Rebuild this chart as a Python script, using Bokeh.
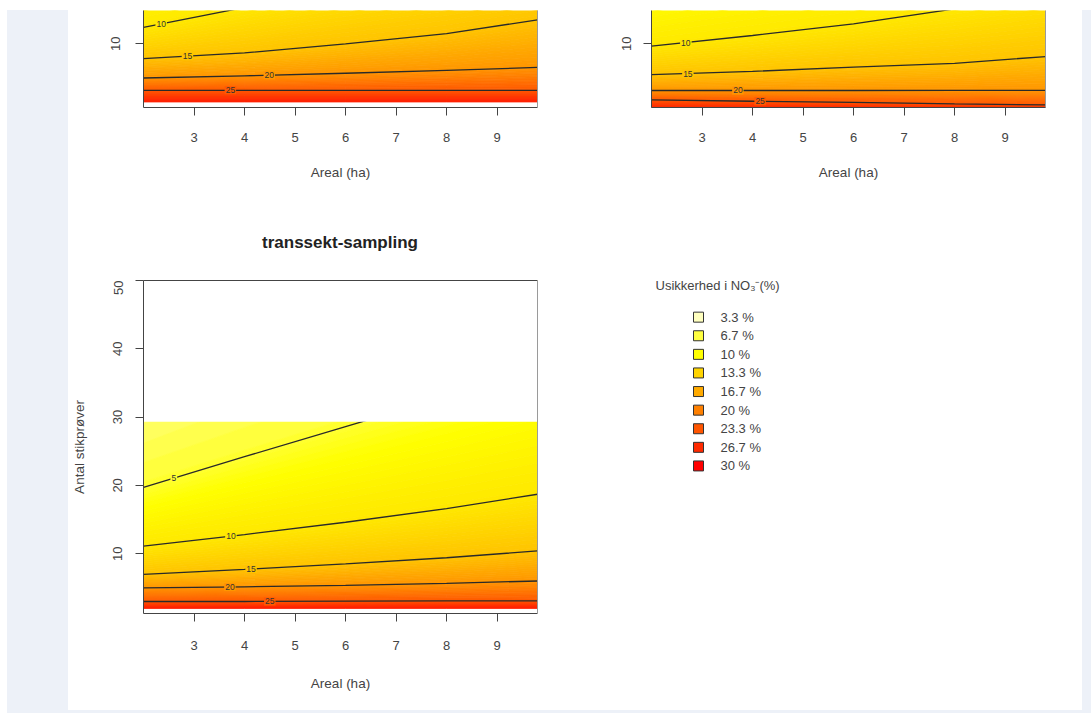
import numpy as np
from bokeh.plotting import figure
from bokeh.models import Range1d, LinearAxis, FixedTicker, Spacer, Div
from bokeh.layouts import row, column
from bokeh.core.properties import value
from bokeh.embed import file_html
from bokeh.resources import INLINE

# ---------------- data ----------------
AREA = [2.0, 4.0, 6.0, 8.0, 9.8]            # Areal (ha) columns of the grid
X_TICKS = [3, 4, 5, 6, 7, 8, 9]
Y_TICKS = [10, 20, 30, 40, 50]

# uncertainty (%) of each grid row, and number of samples where it is reached per area column
TOP_LEVELS = [30, 25, 20, 15, 10, 5]
TL_N = [
    [2.0, 2.0, 2.0, 2.0, 2.0],
    [3.6, 3.6, 3.6, 3.6, 3.6],
    [5.3, 5.6, 5.95, 6.35, 6.75],
    [7.95, 8.75, 10.0, 11.4, 13.3],
    [12.25, 15.0, 17.8, 20.6, 23.1],
    [25.0, 30.0, 36.0, 42.0, 47.0],
]
TR_N = [
    [1.0, 1.0, 1.0, 1.0, 1.0],
    [2.3, 2.1, 1.95, 1.75, 1.6],
    [3.58, 3.58, 3.58, 3.6, 3.6],
    [5.75, 6.2, 6.8, 7.3, 8.25],
    [9.67, 11.14, 12.75, 14.8, 16.9],
    [20.0, 24.0, 28.0, 33.0, 38.0],
]
TS_LEVELS = [30, 25, 20, 15, 10, 5, 2.5]
TS_N = [
    [2.0, 2.0, 2.0, 2.0, 2.0],
    [3.0, 3.0, 3.05, 3.1, 3.1],
    [4.98, 5.15, 5.35, 5.65, 6.0],
    [6.98, 7.7, 8.5, 9.4, 10.4],
    [11.1, 12.8, 14.6, 16.6, 18.7],
    [19.7, 24.2, 28.6, 33.0, 37.0],
    [40.0, 48.0, 56.0, 64.0, 72.0],
]
TS_N_MAX = 29.3          # upper edge of the computed field (white above)

LINE_LEVELS = [25, 20, 15, 10, 5]

TL_LABEL_LEVELS = [10, 15, 20, 25]
TL_LABEL_AREA = [2.35, 2.87, 4.49, 3.72]
TR_LABEL_LEVELS = [10, 15, 20, 25]
TR_LABEL_AREA = [2.68, 2.72, 3.71, 4.15]
TS_LABEL_LEVELS = [5, 10, 15, 20, 25]
TS_LABEL_AREA = [2.6, 3.73, 4.13, 3.71, 4.5]

LEG_TITLE = "Usikkerhed i NO\u2083\u207b(%)"
LEG_LABELS = ["3.3 %", "6.7 %", "10 %", "13.3 %", "16.7 %", "20 %", "23.3 %", "26.7 %", "30 %"]
LEG_COLORS = ["#FFFFBF", "#FFFF40", "#FFFF00", "#FFD400", "#FFAA00",
              "#FF8000", "#FF5500", "#FF2A00", "#FF0000"]

TITLE_BL = "transsekt-sampling"
XLABEL = "Areal (ha)"
YLABEL = "Antal stikprøver"

# ---------------- styling ----------------
FONT = "Liberation Sans"
TXT = "#444444"
STRIP = "#edf1f8"

HEAT_U = [0, 2.0, 3.3, 5.0, 6.7, 10, 15, 20, 25, 30, 35]
HEAT_HEX = ["#FFFFE0", "#FFFFB0", "#FFFF80", "#FFFF30", "#FFFF00", "#FFE800",
            "#FFC400", "#FF9600", "#FF5A00", "#FF2000", "#FF0000"]


def _rgb(h):
    return [int(h[i:i + 2], 16) for i in (1, 3, 5)]


HEAT_RGB = np.array([_rgb(h) for h in HEAT_HEX], float)


def heat(u):
    c = [np.interp(u, HEAT_U, HEAT_RGB[:, k]) for k in range(3)]
    return "#%02x%02x%02x" % tuple(int(round(v)) for v in c)


FILL_LEVELS = list(np.round(np.arange(0, 35.01, 0.35), 4))
FILL_COLORS = [heat((a + b) / 2) for a, b in zip(FILL_LEVELS[:-1], FILL_LEVELS[1:])]


def style_axis(ax, tick_standoff, label_standoff):
    ax.axis_line_color = "#444444"
    ax.axis_line_width = 1
    ax.major_tick_line_color = "#444444"
    ax.major_tick_in = 0
    ax.major_tick_out = 8
    ax.minor_tick_line_color = None
    ax.major_label_text_font = FONT
    ax.major_label_text_font_size = "13px"
    ax.major_label_text_color = TXT
    ax.major_label_standoff = tick_standoff
    ax.axis_label_text_font = FONT
    ax.axis_label_text_font_size = "13.5px"
    ax.axis_label_text_font_style = "normal"
    ax.axis_label_text_color = TXT
    ax.axis_label_standoff = label_standoff


def edge_axis(color):
    ax = LinearAxis(ticker=FixedTicker(ticks=[]))
    ax.axis_line_color = color
    ax.major_tick_line_color = None
    ax.minor_tick_line_color = None
    ax.major_tick_in = 0
    ax.major_tick_out = 0
    ax.minor_tick_in = 0
    ax.minor_tick_out = 0
    ax.major_label_standoff = 0
    return ax


def panel(levels, rows, y_end, frame_h, borders, lab_levels, lab_area,
          ystand, xstand, xlabstand, ylabel=None, ylabstand=20, boxed=False, n_max=None):
    left, right, top, bottom = borders
    p = figure(x_range=Range1d(2.0, 9.8), y_range=Range1d(1.24, y_end),
               frame_width=394, frame_height=frame_h,
               min_border_left=left, min_border_right=right,
               min_border_top=top, min_border_bottom=bottom,
               x_axis_type=None, y_axis_type=None, title=None,
               output_backend="svg", toolbar_location=None)
    p.outline_line_color = None
    p.background_fill_color = "white"
    p.border_fill_color = "white"

    Y = np.array(rows, float)
    X = np.tile(np.array(AREA, float), (len(rows), 1))
    Z = np.repeat(np.array(levels, float)[:, None], len(AREA), axis=1)
    cr = p.contour(X, Y, Z, levels=FILL_LEVELS, fill_color=FILL_COLORS, line_color=None)
    g = cr.fill_renderer.glyph
    g.line_color = g.fill_color
    g.line_alpha = 1.0
    g.line_width = 0.8

    for lv in LINE_LEVELS:
        if lv in levels:
            p.line(AREA, rows[levels.index(lv)], line_color="#2a2a2a", line_width=1.3)

    if n_max is not None:
        p.quad(left=[AREA[0]], right=[AREA[-1]], bottom=[n_max], top=[y_end],
               fill_color="white", line_color=None)

    ly = [float(np.interp(a, AREA, rows[levels.index(lv)])) for lv, a in zip(lab_levels, lab_area)]
    p.text(x=lab_area, y=ly, text=[str(v) for v in lab_levels],
           text_font=value(FONT), text_font_size="8.5px", text_color="#333333",
           text_align="center", text_baseline="middle",
           background_fill_color=[heat(lv) for lv in lab_levels], padding=1)

    ya = LinearAxis(ticker=FixedTicker(ticks=Y_TICKS), major_label_orientation="vertical")
    if ylabel:
        ya.axis_label = ylabel
    style_axis(ya, ystand, ylabstand)
    p.add_layout(ya, "left")

    xa = LinearAxis(ticker=FixedTicker(ticks=X_TICKS), axis_label=XLABEL)
    style_axis(xa, xstand, xlabstand)
    p.add_layout(xa, "below")

    p.add_layout(edge_axis("#9a9a9a"), "right")
    if boxed:
        p.add_layout(edge_axis("#444444"), "above")
    p.grid.visible = False
    return p


fig_tl = panel(TOP_LEVELS, TL_N, 14.58, 97, (75, 63, 0, 83),
               TL_LABEL_LEVELS, TL_LABEL_AREA, 15, 17, 20)
fig_tr = panel(TOP_LEVELS, TR_N, 14.58, 97, (51, 37, 0, 83),
               TR_LABEL_LEVELS, TR_LABEL_AREA, 12, 17, 20)
fig_bl = panel(TS_LEVELS, TS_N, 50, 333, (75, 63, 0, 97),
               TS_LABEL_LEVELS, TS_LABEL_AREA, 13, 19, 23,
               ylabel=YLABEL, ylabstand=24, boxed=True, n_max=TS_N_MAX)

title_div = Div(
    text=('<div style="width:394px;margin-left:75px;margin-top:43px;text-align:center;'
          'font-family:\'Liberation Sans\',Arial,sans-serif;font-size:17px;font-weight:bold;'
          'color:#222;line-height:20px;white-space:nowrap;">%s</div>' % TITLE_BL),
    width=532, height=90, margin=0)

# legend panel
leg = figure(x_range=Range1d(0, 482), y_range=Range1d(21.15, -6.81),
             frame_width=482, frame_height=520, min_border=0,
             x_axis_type=None, y_axis_type=None, title=None,
             output_backend="svg", toolbar_location=None)
leg.outline_line_color = None
leg.grid.visible = False
idx = list(range(len(LEG_LABELS)))
leg.scatter(x=[98] * len(idx), y=idx, marker="square", size=10,
            fill_color=LEG_COLORS, line_color="#333333", line_width=1)
leg.text(x=[120] * len(idx), y=idx, text=LEG_LABELS,
         text_font=value(FONT), text_font_size="13px", text_color=TXT,
         text_align="left", text_baseline="middle")
leg.text(x=[55], y=[-1.7], text=[LEG_TITLE],
         text_font=value(FONT), text_font_size="13px", text_color=TXT,
         text_align="left", text_baseline="middle")

main = column(row(fig_tl, fig_tr), row(column(title_div, fig_bl), leg))
left_strip = Spacer(width=61, height=700, styles={"background-color": STRIP})
right_strip = Spacer(width=9, height=700, styles={"background-color": STRIP})
bottom_strip = Spacer(width=1084, height=3, styles={"background-color": STRIP})
inner = column(Spacer(width=1084, height=10), row(left_strip, main, right_strip), bottom_strip)
page = row(Spacer(width=7, height=713), inner)

open("out.html", "w").write(file_html(page, INLINE))
